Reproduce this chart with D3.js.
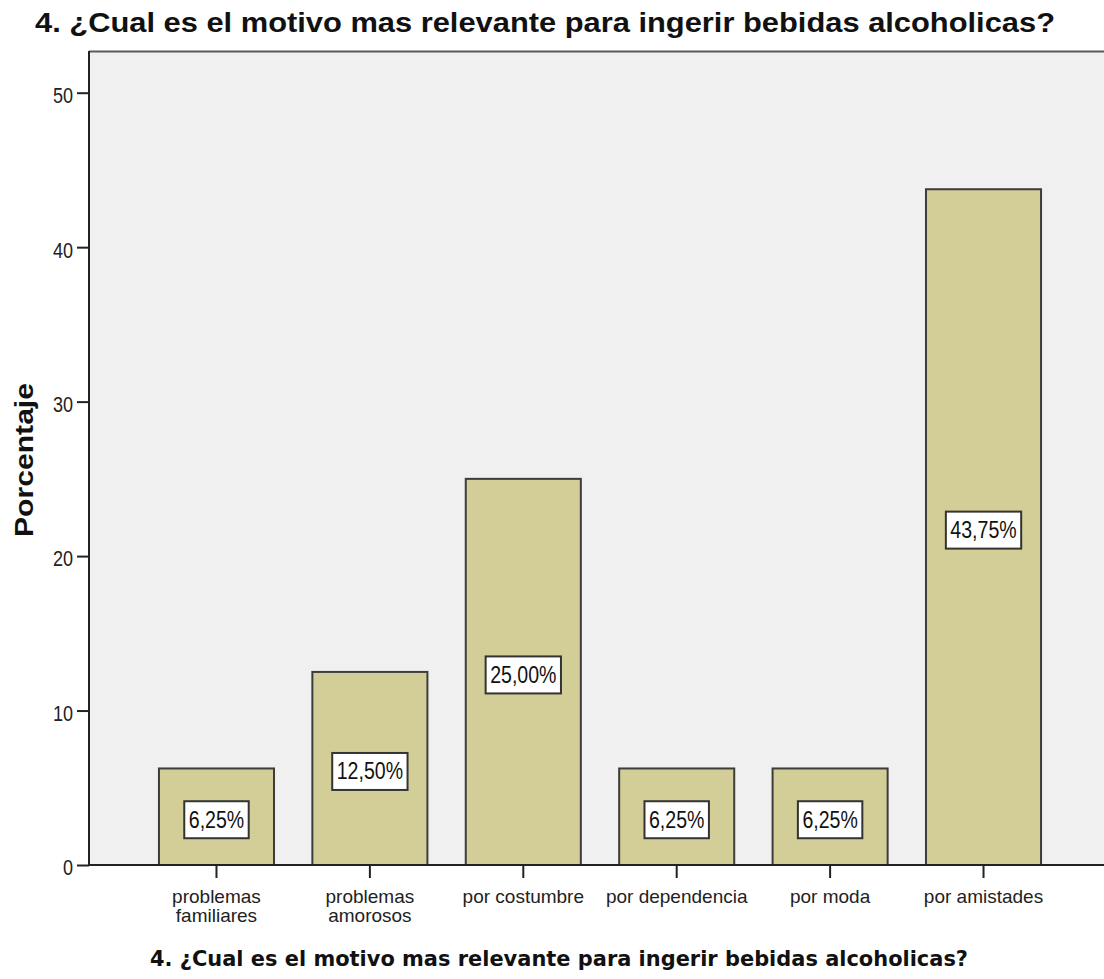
<!DOCTYPE html>
<html lang="es">
<head>
<meta charset="UTF-8">
<script src="https://d3js.org/d3.v7.min.js"></script>
<title>Motivo</title>
<style>
  body { margin: 0; background: #fff; }
</style>
</head>
<body>
<div id="app"></div>
<script>
const categories = [
  ['problemas', 'familiares'],
  ['problemas', 'amorosos'],
  ['por costumbre'],
  ['por dependencia'],
  ['por moda'],
  ['por amistades']
];
const values = [6.25, 12.5, 25.0, 6.25, 6.25, 43.75];
const labels = ['6,25%', '12,50%', '25,00%', '6,25%', '6,25%', '43,75%'];
const yTicks = [0, 10, 20, 30, 40, 50];
const title = '4. ¿Cual es el motivo mas relevante para ingerir bebidas alcoholicas?';

const width = 1104, height = 979;
const plotLeft = 89, plotTop = 51, plotBottom = 865, plotRight = 1111;
const sans = 'Liberation Sans, Arial, sans-serif';

// squeeze or stretch a text element horizontally
function fitWidth(sel, factor) {
  sel.each(function () {
    const w = this.getComputedTextLength();
    d3.select(this).attr('textLength', w * factor).attr('lengthAdjust', 'spacingAndGlyphs');
  });
}

const svg = d3.select('#app').append('svg')
  .attr('width', width).attr('height', height)
  .style('display', 'block');

const ids = categories.map((c, i) => i);
const x = d3.scaleBand().domain(ids).range([plotLeft, plotRight])
  .paddingInner(0.25).paddingOuter(0.456);
const y = d3.scaleLinear().domain([0, 52.7]).range([plotBottom, plotTop]);

// plot background
svg.append('rect')
  .attr('x', plotLeft).attr('y', plotTop)
  .attr('width', plotRight - plotLeft).attr('height', plotBottom - plotTop)
  .attr('fill', '#f0f0f0');
svg.append('line')
  .attr('x1', plotLeft).attr('x2', plotRight).attr('y1', plotTop + 0.5).attr('y2', plotTop + 0.5)
  .attr('stroke', '#5a5a5a').attr('stroke-width', 2);

// bars
svg.append('g').selectAll('rect')
  .data(values).enter().append('rect')
  .attr('x', (d, i) => x(i))
  .attr('y', d => y(d))
  .attr('width', x.bandwidth())
  .attr('height', d => plotBottom - y(d))
  .attr('fill', '#d3ce97')
  .attr('stroke', '#3c3c3c')
  .attr('stroke-width', 2);

// y axis
const yAxis = svg.append('g')
  .attr('transform', 'translate(' + plotLeft + ',0)')
  .call(d3.axisLeft(y).tickValues(yTicks).tickSize(12).tickPadding(4));
yAxis.select('.domain').attr('stroke', '#222').attr('stroke-width', 2)
  .attr('d', 'M0,' + plotTop + 'V' + plotBottom);
yAxis.selectAll('.tick line').attr('stroke', '#222').attr('stroke-width', 2);
yAxis.selectAll('.tick text')
  .attr('font-family', sans)
  .attr('font-size', 22).attr('fill', '#222')
  .attr('dy', '0.45em');
fitWidth(yAxis.selectAll('.tick text'), 0.82);

// x axis
const xAxis = svg.append('g')
  .attr('transform', 'translate(0,' + plotBottom + ')')
  .call(d3.axisBottom(x).tickSize(13).tickFormat(''));
xAxis.select('.domain').attr('stroke', '#222').attr('stroke-width', 2)
  .attr('d', 'M' + plotLeft + ',0H' + plotRight);
xAxis.selectAll('.tick line').attr('stroke', '#222').attr('stroke-width', 2);
xAxis.selectAll('.tick').each(function (d) {
  const g = d3.select(this);
  categories[d].forEach((line, j) => {
    g.append('text')
      .attr('fill', '#222')
      .attr('text-anchor', 'middle')
      .attr('font-family', sans)
      .attr('font-size', 19)
      .attr('x', 0).attr('y', 38 + j * 19)
      .text(line);
  });
});

// value labels
const lab = svg.append('g').selectAll('g')
  .data(values).enter().append('g')
  .attr('transform', (d, i) => 'translate(' + (x(i) + x.bandwidth() / 2) + ',' + (y(d / 2) + 3) + ')');
lab.append('text')
  .attr('text-anchor', 'middle')
  .attr('y', 8)
  .attr('font-family', sans)
  .attr('font-size', 23)
  .attr('fill', '#111')
  .text((d, i) => labels[i]);
fitWidth(lab.selectAll('text'), 0.85);
lab.each(function () {
  const g = d3.select(this);
  const w = +g.select('text').attr('textLength');
  g.insert('rect', 'text')
    .attr('x', -w / 2 - 4.5).attr('y', -18.5)
    .attr('width', w + 9).attr('height', 37)
    .attr('fill', '#fff')
    .attr('stroke', '#333').attr('stroke-width', 2);
});

// titles
svg.append('text')
  .attr('x', 545).attr('y', 32)
  .attr('text-anchor', 'middle')
  .attr('font-family', sans)
  .attr('font-weight', 'bold').attr('font-size', 28)
  .attr('textLength', 1020).attr('lengthAdjust', 'spacingAndGlyphs')
  .attr('fill', '#111')
  .text(title);

svg.append('text')
  .attr('x', 559).attr('y', 966)
  .attr('text-anchor', 'middle')
  .attr('font-family', 'DejaVu Sans, Verdana, sans-serif')
  .attr('font-weight', 'bold').attr('font-size', 22)
  .attr('textLength', 818).attr('lengthAdjust', 'spacingAndGlyphs')
  .attr('fill', '#111')
  .text(title);

svg.append('text')
  .attr('transform', 'translate(33,460) rotate(-90)')
  .attr('text-anchor', 'middle')
  .attr('font-family', sans)
  .attr('font-weight', 'bold').attr('font-size', 26)
  .attr('textLength', 154).attr('lengthAdjust', 'spacingAndGlyphs')
  .attr('fill', '#111')
  .text('Porcentaje');
</script>
</body>
</html>
